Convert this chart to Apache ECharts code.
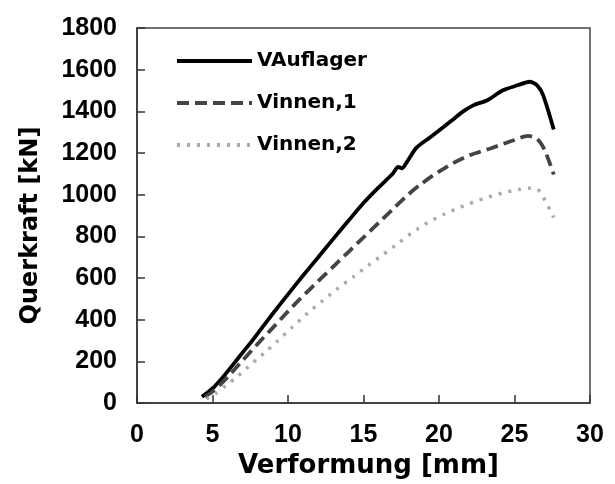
<!DOCTYPE html>
<html>
<head>
<meta charset="utf-8">
<script src="https://cdn.jsdelivr.net/npm/echarts@6/dist/echarts.min.js"></script>
<style>html,body{margin:0;padding:0;background:#fff;}#c{width:615px;height:484px;}</style>
</head>
<body>
<div id="c"></div>
<script>
var seriesNames = ['VAuflager', 'Vinnen,1', 'Vinnen,2'];
var xAuflager = [4.3,5.0,5.5,6.0,6.8,7.5,8.0,9.0,10.0,11.0,12.0,13.0,14.0,15.0,16.0,16.9,17.3,17.55,17.9,18.5,19.4,20.3,21.0,21.6,22.3,23.2,24.2,25.2,26.0,26.5,26.9,27.6];
var yAuflager = [30,70,108,152,225,288,335,430,522,612,700,788,875,960,1035,1098,1133,1127,1160,1225,1275,1325,1365,1400,1430,1453,1500,1525,1542,1525,1477,1313];
var xInnen1 = [4.5,5.0,5.5,6.0,6.5,7.0,8.0,9.0,10.0,10.8,12.0,13.0,14.0,15.0,16.0,17.0,18.0,18.7,19.6,20.9,22.05,23.4,24.9,25.9,26.5,27.0,27.6];
var yInnen1 = [30,55,88,125,165,205,285,362,440,500,585,655,725,795,865,935,1003,1045,1092,1150,1190,1222,1260,1282,1268,1214,1097];
var xInnen2 = [4.6,5.2,5.9,6.6,7.7,8.5,9.3,10.3,11.3,12.3,13.3,14.3,15.3,16.3,17.3,18.3,19.3,20.3,21.3,22.3,23.3,24.3,25.3,25.9,26.5,26.9,27.6];
var yInnen2 = [20,45,85,125,195,245,298,365,432,492,550,605,660,713,767,822,868,905,937,965,990,1010,1025,1031,1027,988,891];
var xTicks = [0,5,10,15,20,25,30];
var yTicks = [0,200,400,600,800,1000,1200,1400,1600,1800];

function pairs(xs, ys){ return xs.map(function(x,i){ return [x, ys[i]]; }); }

var FONT = 'Liberation Sans, Arial, sans-serif';
var WFONT = 'DejaVu Sans, sans-serif';
var chart = echarts.init(document.getElementById('c'));
chart.setOption({
  animation: false,
  backgroundColor: '#fff',
  grid: { left: 137, right: 25, top: 28, bottom: 72, show: true, borderColor: '#444', borderWidth: 1.5 },
  legend: {
    orient: 'vertical', left: 175, top: 51, padding: 0,
    itemWidth: 75, itemHeight: 20, itemGap: 22,
    itemStyle: { opacity: 0 },
    lineStyle: { width: 4 },
    textStyle: { fontFamily: WFONT, fontWeight: 'bold', fontSize: 20, color: '#000' },
    data: seriesNames
  },
  xAxis: {
    type: 'value', min: xTicks[0], max: xTicks[xTicks.length-1], interval: 5,
    name: 'Verformung [mm]', nameLocation: 'middle', nameGap: 40,
    nameTextStyle: { fontFamily: WFONT, fontWeight: 'bold', fontSize: 26, color: '#000', padding: [0,0,0,10] },
    axisLine: { show: true, lineStyle: { color: '#333', width: 1.5 } },
    axisTick: { show: true, inside: true, length: 8, lineStyle: { color: '#333', width: 1.5 } },
    axisLabel: { margin: 20, fontFamily: FONT, fontWeight: 'bold', fontSize: 25, color: '#000', formatter: function(v){ return String(v); } },
    splitLine: { show: false }
  },
  yAxis: {
    type: 'value', min: yTicks[0], max: yTicks[yTicks.length-1], interval: 200,
    name: 'Querkraft [kN]', nameLocation: 'middle', nameGap: 94, nameRotate: 90,
    nameTextStyle: { fontFamily: WFONT, fontWeight: 'bold', fontSize: 24, color: '#000', padding: [0,20,0,0] },
    axisLine: { show: true, lineStyle: { color: '#333', width: 1.5 } },
    axisTick: { show: true, inside: true, length: 8, lineStyle: { color: '#333', width: 1.5 } },
    axisLabel: { margin: 20, fontFamily: FONT, fontWeight: 'bold', fontSize: 25, color: '#000', formatter: function(v){ return String(v); } },
    splitLine: { show: false }
  },
  series: [
    { name: seriesNames[0], type: 'line', data: pairs(xAuflager, yAuflager), symbol: 'none', smooth: 0.25,
      lineStyle: { color: '#000', width: 3.8, type: 'solid' }, itemStyle: { color: '#000' } },
    { name: seriesNames[1], type: 'line', data: pairs(xInnen1, yInnen1), symbol: 'none', smooth: 0.25,
      lineStyle: { color: '#444', width: 3.8, type: [12,6] }, itemStyle: { color: '#444' } },
    { name: seriesNames[2], type: 'line', data: pairs(xInnen2, yInnen2), symbol: 'none', smooth: 0.25,
      lineStyle: { color: '#aaa', width: 3.5, type: [3,7] }, itemStyle: { color: '#aaa' } }
  ]
});
</script>
</body>
</html>
